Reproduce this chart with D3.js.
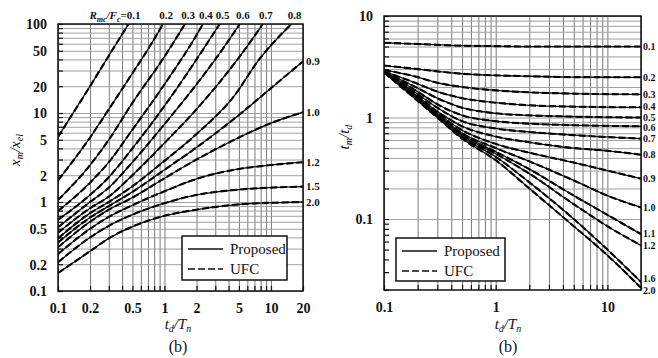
<!DOCTYPE html>
<html><head><meta charset="utf-8">
<script src="https://cdn.jsdelivr.net/npm/d3@7"></script>
<style>
body{margin:0;background:#fff;}
text{font-family:"Liberation Serif","Times New Roman",serif;fill:#111;}
</style>
</head><body>
<svg id="c" width="658" height="358"></svg>
<script>
// ---------------- DATA ----------------
// Left panel: x_m/x_el vs t_d/T_n, one series per R_m/F_c
const leftRatios = ["0.1","0.2","0.3","0.4","0.5","0.6","0.7","0.8","0.9","1.0","1.2","1.5","2.0"];
const leftR01 = [[0.1,5.4],[0.2,20],[0.3,44],[0.46,100]];
const leftR02 = [[0.1,1.75],[0.2,5.3],[0.3,11],[0.5,28],[0.7,52],[0.97,100]];
const leftR03 = [[0.1,1.05],[0.2,2.6],[0.3,5],[0.5,13],[1,43],[1.56,100]];
const leftR04 = [[0.1,0.79],[0.2,1.65],[0.3,2.8],[0.5,6.5],[1,21],[2,75],[2.3,100]];
const leftR05 = [[0.1,0.63],[0.2,1.2],[0.3,1.9],[0.5,4.0],[1,12],[2,40],[3.3,100]];
const leftR06 = [[0.1,0.52],[0.2,1.0],[0.3,1.45],[0.5,2.8],[1,7.5],[2,21],[3,40],[5.1,100]];
const leftR07 = [[0.1,0.45],[0.2,0.85],[0.3,1.15],[0.5,2.0],[1,4.6],[2,11],[5,42],[8.4,100]];
const leftR08 = [[0.1,0.39],[0.2,0.75],[0.3,1.0],[0.5,1.5],[1,2.9],[2,5.8],[4.6,16],[7.5,38],[15.6,100]];
const leftR09 = [[0.1,0.35],[0.2,0.67],[0.3,0.9],[0.5,1.3],[1,2.3],[2,4.1],[5,9.5],[10,19],[20,38]];
const leftR10 = [[0.1,0.31],[0.2,0.6],[0.3,0.82],[0.5,1.12],[1,1.85],[2,3.0],[5,5.3],[10,7.7],[20,10.2]];
const leftR12 = [[0.1,0.26],[0.2,0.5],[0.3,0.68],[0.5,0.92],[1,1.32],[2,1.82],[5,2.35],[10,2.6],[20,2.8]];
const leftR15 = [[0.1,0.21],[0.2,0.4],[0.3,0.54],[0.5,0.72],[1,0.97],[2,1.2],[5,1.38],[10,1.45],[20,1.49]];
const leftR20 = [[0.1,0.159],[0.2,0.28],[0.3,0.39],[0.5,0.53],[1,0.70],[2,0.82],[5,0.94],[10,0.98],[20,1.0]];
const leftSeries = [leftR01,leftR02,leftR03,leftR04,leftR05,leftR06,leftR07,leftR08,leftR09,leftR10,leftR12,leftR15,leftR20];

// Right panel: t_m/t_d vs t_d/T_n
const rightRatios = ["0.1","0.2","0.3","0.4","0.5","0.6","0.7","0.8","0.9","1.0","1.1","1.2","1.6","2.0"];
const rightR01 = [[0.1,5.45],[0.2,5.3],[0.5,5.1],[1,5.05],[2,5.0],[5,5.0],[20,5.0]];
const rightR02 = [[0.1,3.25],[0.2,3.0],[0.3,2.85],[0.5,2.7],[1,2.6],[2,2.55],[5,2.5],[20,2.49]];
const rightR03 = [[0.1,2.95],[0.2,2.5],[0.3,2.2],[0.5,2.0],[1,1.85],[2,1.77],[5,1.72],[20,1.69]];
const rightR04 = [[0.1,2.85],[0.2,2.15],[0.3,1.8],[0.5,1.55],[1,1.4],[2,1.32],[5,1.28],[20,1.26]];
const rightR05 = [[0.1,2.82],[0.2,1.95],[0.3,1.55],[0.5,1.25],[1,1.1],[2,1.05],[5,1.02],[20,1.0]];
const rightR06 = [[0.1,2.8],[0.2,1.8],[0.3,1.35],[0.5,1.05],[1,0.92],[2,0.87],[5,0.84],[20,0.82]];
const rightR07 = [[0.1,2.8],[0.2,1.7],[0.3,1.25],[0.5,0.92],[1,0.78],[2,0.72],[5,0.67],[20,0.62]];
const rightR08 = [[0.1,2.8],[0.2,1.62],[0.3,1.15],[0.5,0.82],[1,0.65],[2,0.57],[5,0.5],[10,0.47],[20,0.43]];
const rightR09 = [[0.1,2.8],[0.2,1.58],[0.3,1.1],[0.5,0.75],[1,0.55],[2,0.45],[5,0.36],[10,0.3],[20,0.25]];
const rightR10 = [[0.1,2.8],[0.2,1.55],[0.3,1.07],[0.5,0.7],[1,0.5],[2,0.37],[5,0.24],[10,0.17],[20,0.13]];
const rightR11 = [[0.1,2.8],[0.2,1.52],[0.3,1.05],[0.5,0.68],[1,0.46],[2,0.31],[5,0.17],[10,0.11],[20,0.071]];
const rightR12 = [[0.1,2.8],[0.2,1.5],[0.3,1.04],[0.5,0.66],[1,0.44],[2,0.28],[5,0.14],[10,0.085],[20,0.055]];
const rightR16 = [[0.1,2.8],[0.2,1.48],[0.3,1.02],[0.5,0.64],[1,0.41],[2,0.23],[5,0.1],[10,0.05],[20,0.024]];
const rightR20 = [[0.1,2.78],[0.2,1.46],[0.3,1.0],[0.5,0.62],[1,0.38],[2,0.2],[5,0.085],[10,0.044],[20,0.021]];
const rightSeries = [rightR01,rightR02,rightR03,rightR04,rightR05,rightR06,rightR07,rightR08,rightR09,rightR10,rightR11,rightR12,rightR16,rightR20];

// tick labels
const leftXTicks = [0.1,0.2,0.5,1,2,5,10,20];
const leftYTicks = [0.1,0.2,0.5,1,2,5,10,20,50,100];
const rightXTicks = [0.1,1,10];
const rightYTicks = [0.1,1,10];
const legendLabels = ["Proposed","UFC"];

// ---------------- DRAW ----------------
const svg = d3.select("#c");
const fmt = d => String(d);

function minorVals(lo, hi){
  const out=[];
  for(let e=-3;e<=3;e++) for(let m=1;m<=9;m++){
    const v=+(m*Math.pow(10,e)).toPrecision(3);
    if(v>=lo*0.999 && v<=hi*1.001) out.push(v);
  }
  return out;
}

function panel(o){
  const g = svg.append("g");
  const [x0,x1]=o.x.range(), [y0,y1]=o.y.range();
  const id = "clip"+o.key;
  svg.append("defs").append("clipPath").attr("id",id).append("rect")
    .attr("x",x0).attr("y",y1).attr("width",x1-x0).attr("height",y0-y1);

  g.append("g").attr("transform",`translate(0,${y0})`)
    .call(d3.axisBottom(o.x).tickValues(minorVals(...o.x.domain())).tickSize(-(y0-y1)).tickFormat(""))
    .call(s=>{s.select(".domain").remove(); s.selectAll("line").attr("stroke","#7a7a7a").attr("stroke-width",1);});
  g.append("g").attr("transform",`translate(${x0},0)`)
    .call(d3.axisLeft(o.y).tickValues(minorVals(...o.y.domain()).filter(v=>v>=o.hGridMin)).tickSize(-(x1-x0)).tickFormat(""))
    .call(s=>{s.select(".domain").remove(); s.selectAll("line").attr("stroke","#a0a0a0").attr("stroke-width",1);});
  g.append("g").attr("transform",`translate(0,${y0})`)
    .call(d3.axisBottom(o.x).tickValues(minorVals(...o.x.domain())).tickSize(-5).tickFormat(""))
    .call(s=>{s.select(".domain").remove(); s.selectAll("line").attr("stroke","#111").attr("stroke-width",1.2);});
  g.append("g").attr("transform",`translate(${x0},0)`)
    .call(d3.axisLeft(o.y).tickValues(minorVals(...o.y.domain())).tickSize(-5).tickFormat(""))
    .call(s=>{s.select(".domain").remove(); s.selectAll("line").attr("stroke","#111").attr("stroke-width",1.2);});
  g.append("g").attr("transform",`translate(0,${y0+9})`)
    .call(d3.axisBottom(o.x).tickValues(o.xTicks).tickSize(0).tickFormat(fmt))
    .call(s=>{s.select(".domain").remove(); s.selectAll("text").attr("font-size",14).attr("font-weight","bold").attr("fill","#222").style("font-family","Liberation Serif");});
  g.append("g").attr("transform",`translate(${x0-8},0)`)
    .call(d3.axisLeft(o.y).tickValues(o.yTicks).tickSize(0).tickFormat(fmt))
    .call(s=>{s.select(".domain").remove(); s.selectAll("text").attr("font-size",14).attr("font-weight","bold").attr("fill","#222").attr("dy","0.35em").style("font-family","Liberation Serif");});

  const line = d3.line().x(d=>o.x(d[0])).y(d=>o.y(d[1])).curve(d3.curveMonotoneX);
  const cg = g.append("g").attr("clip-path",`url(#${id})`);
  o.series.forEach(s=>{
    cg.append("path").attr("d",line(s)).attr("fill","none").attr("stroke","#111").attr("stroke-width",1.3);
    cg.append("path").attr("d",line(s)).attr("fill","none").attr("stroke","#000").attr("stroke-width",2.1).attr("stroke-dasharray","7,3");
  });

  g.append("rect").attr("x",x0).attr("y",y1).attr("width",x1-x0).attr("height",y0-y1)
    .attr("fill","none").attr("stroke","#111").attr("stroke-width",1.5);

  const L=o.legend;
  const lg=g.append("g");
  lg.append("rect").attr("x",L.x).attr("y",L.y).attr("width",L.w).attr("height",L.h)
    .attr("fill","#fff").attr("stroke","#111").attr("stroke-width",1.5);
  legendLabels.forEach((t,i)=>{
    const yy=L.y+13+i*20;
    lg.append("line").attr("x1",L.x+6).attr("x2",L.x+41).attr("y1",yy).attr("y2",yy)
      .attr("stroke","#111").attr("stroke-width",1.5).attr("stroke-dasharray",i?"7,3":null);
    lg.append("text").attr("x",L.x+48).attr("y",yy).attr("dy","0.35em").attr("font-size",15).text(t);
  });
  return g;
}

const xL = d3.scaleLog().domain([0.1,20]).range([58,303]);
const yL = d3.scaleLog().domain([0.1,100]).range([291,24]);
const gL = panel({key:"L",x:xL,y:yL,series:leftSeries,xTicks:leftXTicks,yTicks:leftYTicks,hGridMin:0.1,
  legend:{x:182,y:236,w:105,h:44}});

const xR = d3.scaleLog().domain([0.1,20]).range([384,641]);
const yR = d3.scaleLog().domain([0.02,10]).range([290,16]);
const gR = panel({key:"R",x:xR,y:yR,series:rightSeries,xTicks:rightXTicks,yTicks:rightYTicks,hGridMin:0.1,
  legend:{x:396,y:238,w:109,h:43}});

leftSeries.forEach((s,i)=>{
  const last=s[s.length-1];
  if(last[1]>=100){
    if(i===0) return;
    gL.append("text").attr("x",xL(last[0])+3).attr("y",19).attr("text-anchor","middle")
      .attr("font-size",11).attr("font-weight","bold").text(leftRatios[i]);
  } else {
    gL.append("text").attr("x",306).attr("y",yL(last[1])).attr("dy","0.35em")
      .attr("font-size",11).attr("font-weight","bold").text(leftRatios[i]);
  }
});
const t0 = gL.append("text").attr("x",xL(leftR01[leftR01.length-1][0])+12).attr("y",19).attr("text-anchor","end")
  .attr("font-size",11).attr("font-weight","bold");
t0.append("tspan").attr("font-style","italic").text("R");
t0.append("tspan").attr("font-style","italic").attr("font-size",8).attr("dy",3).text("mc");
t0.append("tspan").attr("dy",-3).attr("font-style","italic").text("/F");
t0.append("tspan").attr("font-style","italic").attr("font-size",8).attr("dy",3).text("c");
t0.append("tspan").attr("dy",-3).text("=0.1");

const rightLabelNudge = [0,0,0,-1,0,1,0,0,0,0,0,0,-3,3];
rightSeries.forEach((s,i)=>{
  const last=s[s.length-1];
  const yy=Math.min(yR(last[1]),288);
  gR.append("text").attr("x",643).attr("y",yy+rightLabelNudge[i]).attr("dy","0.33em")
    .attr("font-size",10).attr("font-weight","bold").text(rightRatios[i]);
});

function ratioLabel(g, x, y, a, as, b, bs, rot){
  const t=g.append("text").attr("transform",`translate(${x},${y})${rot?" rotate(-90)":""}`)
    .attr("text-anchor","middle").attr("font-size",15).attr("font-style","italic");
  t.append("tspan").text(a);
  t.append("tspan").attr("font-size",10).attr("dy",3).text(as);
  t.append("tspan").attr("dy",-3).text("/"+b);
  t.append("tspan").attr("font-size",10).attr("dy",3).text(bs);
}
ratioLabel(gL,20,150,"x","m","x","el",true);
ratioLabel(gL,178,329,"t","d","T","n",false);
ratioLabel(gR,349,137,"t","m","t","d",true);
ratioLabel(gR,508,329,"t","d","T","n",false);
gL.append("text").attr("x",178).attr("y",352).attr("text-anchor","middle").attr("font-size",16).text("(b)");
gR.append("text").attr("x",508).attr("y",352).attr("text-anchor","middle").attr("font-size",16).text("(b)");
</script>
</body></html>
